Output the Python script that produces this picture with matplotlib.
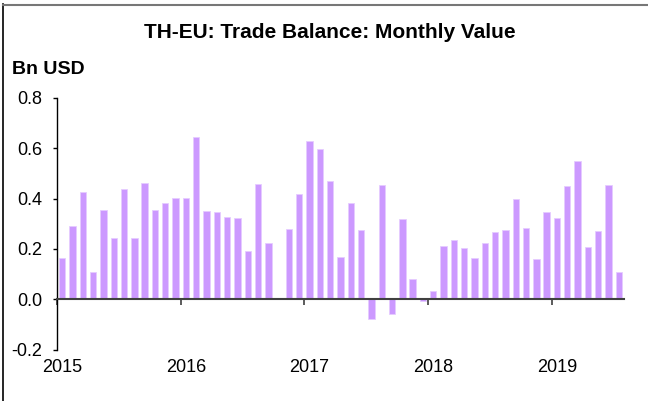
import matplotlib
matplotlib.use("Agg")
import matplotlib.pyplot as plt
import matplotlib.transforms as mtransforms
import numpy as np

plt.rcParams['font.family'] = ['Liberation Sans', 'DejaVu Sans']

title = "TH-EU: Trade Balance: Monthly Value"
unit_label = "Bn USD"
years = ["2015", "2016", "2017", "2018", "2019"]
y_ticks = [-0.2, 0.0, 0.2, 0.4, 0.6, 0.8]
y_tick_labels = ["-0.2", "0.0", "0.2", "0.4", "0.6", "0.8"]

# Monthly values Jan 2015 .. Jul 2019 (Bn USD); Oct 2016 missing
values = [
    0.163, 0.290, 0.427, 0.107, 0.354, 0.243, 0.438, 0.245, 0.462, 0.356, 0.383, 0.403,
    0.402, 0.646, 0.350, 0.346, 0.328, 0.324, 0.192, 0.459, 0.224, np.nan, 0.281, 0.418,
    0.629, 0.598, 0.471, 0.166, 0.382, 0.275, -0.080, 0.455, -0.057, 0.320, 0.081, -0.007,
    0.032, 0.211, 0.235, 0.202, 0.165, 0.222, 0.267, 0.275, 0.399, 0.285, 0.161, 0.348,
    0.321, 0.451, 0.549, 0.208, 0.271, 0.454, 0.107,
]

W, H = 648, 401
fig = plt.figure(figsize=(W / 100, H / 100), dpi=100)
ax = fig.add_axes([57 / W, 1 - 349.5 / H, (624 - 57) / W, (349.5 - 98) / H])

x = np.arange(len(values)) + 0.5
ax.bar(x, values, width=0.62, color="#CC99FF", edgecolor="#E6CCFF", linewidth=0.6, zorder=2)

ax.set_xlim(0, len(values))
ax.set_ylim(-0.2, 0.8)

for s in ["top", "right"]:
    ax.spines[s].set_visible(False)
ax.spines["bottom"].set_position(("data", 0))
ax.spines["bottom"].set_color("#404040")
ax.spines["bottom"].set_linewidth(1.5)
ax.spines["bottom"].set_zorder(3)
ax.spines["left"].set_color("black")
ax.spines["left"].set_linewidth(1.0)

ax.set_yticks(y_ticks)
ax.set_yticklabels(y_tick_labels, fontsize=13)
ax.tick_params(axis="y", direction="out", length=3, width=1, pad=7.5, colors="black")

ax.set_xticks([i * 12 for i in range(len(years))])
ax.set_xticklabels([])
ax.tick_params(axis="x", direction="out", length=4, width=1.2, color="#404040")

trans = mtransforms.blended_transform_factory(ax.transData, fig.transFigure)
for i, yr in enumerate(years):
    ax.text(i * 12 + 0.5, 1 - 367 / H, yr, transform=trans, ha="center", va="center",
            fontsize=13)

fig.text(330 / W, 1 - 32 / H, title, ha="center", va="center", fontsize=15, fontweight="bold")
fig.text(12 / W, 1 - 70 / H, unit_label, ha="left", va="center", fontsize=14, fontweight="bold")

# frame lines
fig.add_artist(plt.Line2D([3 / W, 3 / W], [0, 1 - 4 / H], transform=fig.transFigure, color="black", lw=1.2))
fig.add_artist(plt.Line2D([3 / W, 1], [1 - 4.5 / H, 1 - 4.5 / H], transform=fig.transFigure, color="#777777", lw=1.5))

fig.savefig("out.png", dpi=100)
